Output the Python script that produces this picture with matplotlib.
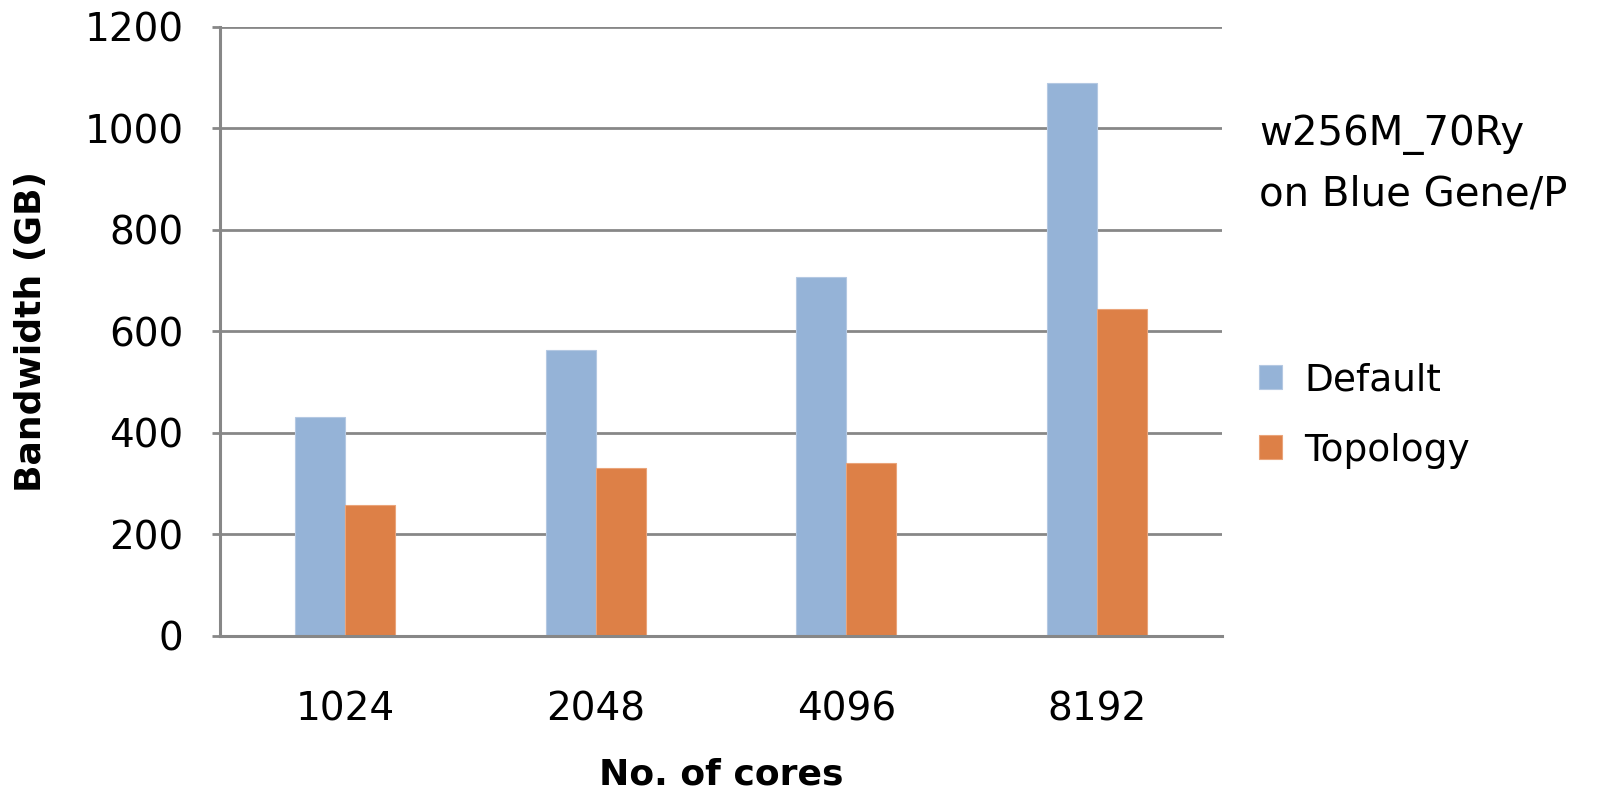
import matplotlib.pyplot as plt
import numpy as np

plt.rcParams['font.family'] = ['DejaVu Sans']

cores = ['1024', '2048', '4096', '8192']
default_bw = [432, 564, 706, 1088]
topology_bw = [257, 330, 340, 643]

blue = '#95b3d7'
orange = '#dd8047'
gray = '#878787'

fig = plt.figure(figsize=(16.04, 7.94), dpi=100)
ax = fig.add_axes([0.137, 0.199, 0.625, 0.7675])

x = np.arange(len(cores))
w = 0.2
ax.bar(x - w / 2, default_bw, w, color=blue, edgecolor='#b4c8e2', linewidth=0.8, label='Default', zorder=3)
ax.bar(x + w / 2, topology_bw, w, color=orange, edgecolor='#eaa47a', linewidth=0.8, label='Topology', zorder=3)

ax.set_xlim(-0.5, len(cores) - 0.5)
ax.set_ylim(0, 1200)
ax.set_yticks(range(0, 1201, 200))
ax.set_xticks(x)
ax.set_xticklabels(cores)

ax.grid(axis='y', color=gray, linewidth=2, zorder=0)
for s in ['top', 'right']:
    ax.spines[s].set_visible(False)
for s in ['left', 'bottom']:
    ax.spines[s].set_color(gray)
    ax.spines[s].set_linewidth(2.2)
    ax.spines[s].set_zorder(4)

ax.tick_params(axis='y', length=6, width=2, color=gray, pad=20, labelsize=28)
ax.tick_params(axis='x', length=0, pad=39, labelsize=28)

ax.set_xlabel('No. of cores', fontsize=26, fontweight='bold', labelpad=21)
ax.set_ylabel('Bandwidth (GB)', fontsize=26, fontweight='bold', labelpad=26)

fig.text(0.785, 0.793, 'w256M_70Ry\non Blue Gene/P', fontsize=29, ha='left', va='center', linespacing=1.65)

ax.legend(loc='center left', bbox_to_anchor=(0.764, 0.477), bbox_transform=fig.transFigure,
          frameon=False, fontsize=27, handlelength=0.6, handleheight=0.6,
          handletextpad=0.6, labelspacing=0.92)

plt.savefig('out.png', dpi=100)
